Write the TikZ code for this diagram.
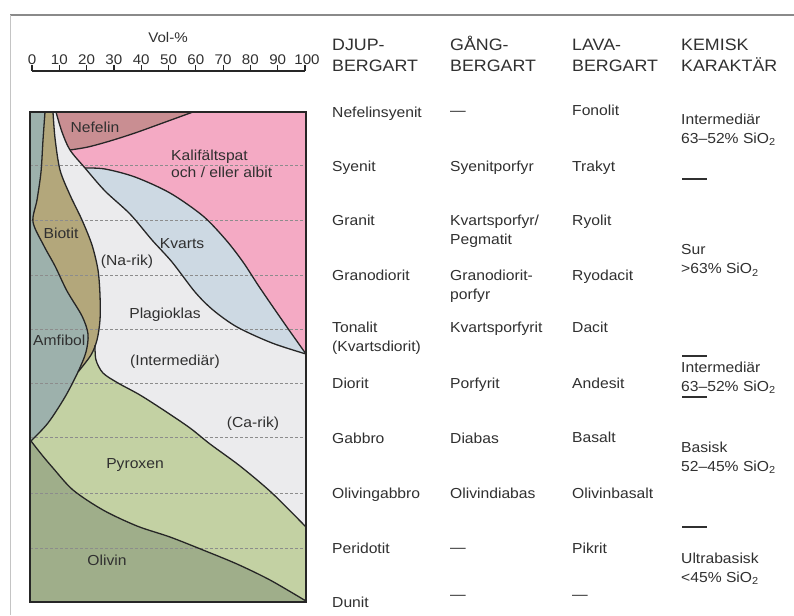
\documentclass[tikz,border=0pt]{standalone}
\usepackage{fontspec}
\setmainfont{Liberation Sans}[FakeStretch=1.08]
\definecolor{plag}{HTML}{EBEBED}
\definecolor{pinkc}{HTML}{F4AAC4}
\definecolor{kvartsc}{HTML}{CDD9E3}
\definecolor{nefc}{HTML}{C98E92}
\definecolor{biotc}{HTML}{B3A77B}
\definecolor{amfc}{HTML}{9DB1AC}
\definecolor{pyrc}{HTML}{C3D1A3}
\definecolor{olivc}{HTML}{9FAE8A}
\definecolor{txt}{HTML}{303030}
\definecolor{edge}{HTML}{262626}
\definecolor{dashc}{HTML}{8C8C8C}
\definecolor{framec}{HTML}{8A8A8A}
\definecolor{framel}{HTML}{C4C4C4}
\newcommand{\hstrut}{\rule{0pt}{19pt}}
\tikzset{
  hdr/.style={font=\fontsize{16.5}{21}\selectfont, anchor=west, align=left, inner sep=0pt, text=txt},
  cell/.style={font=\fontsize{14.5}{19}\selectfont, anchor=base west, inner sep=0pt, text=txt},
  cellm/.style={font=\fontsize{14.5}{19}\selectfont, anchor=west, align=left, inner sep=0pt, text=txt},
  lab/.style={font=\fontsize{14.5}{17}\selectfont, anchor=base, inner sep=0pt, text=txt},
  labm/.style={font=\fontsize{14.5}{17}\selectfont, anchor=west, align=left, inner sep=0pt, text=txt},
  sclab/.style={font=\fontsize{14}{16}\selectfont, anchor=base, inner sep=0pt, text=txt},
  bnd/.style={draw=edge, line width=1.3pt},
  rowline/.style={draw=dashc, line width=0.8pt, dash pattern=on 3pt off 2pt},
  sepline/.style={draw=txt, line width=1.8pt},
  scline/.style={draw=edge, line width=1.2pt},
}
\begin{document}
\begin{tikzpicture}[x=1pt,y=-1pt]
\useasboundingbox (0,0) rectangle (794,615);
\fill[white] (0,0) rectangle (794,615);
% frame
\draw[framec, line width=1.8pt] (10,15) -- (794,15);
\draw[framel, line width=1pt] (10,15) -- (10,615);

% scale
\node[sclab] (vol) at (168,43) {Vol-\%};
\draw[scline] (32,71) -- (305,71);
\foreach \k/\v in {0/0,1/10,2/20,3/30,4/40,5/50,6/60,7/70,8/80,9/90,10/100}{
  \draw[scline] ({32+27.3*\k},65.5) -- ({32+27.3*\k},71);
  \node[sclab] (t\k) at ({32+27.3*\k+(\k==10?2:0)},64.5) {\v};
}

% chart fills
\begin{scope}
\clip (30,112) rectangle (306,602);
\fill[plag] (30,112) rectangle (306,602);
% pink (right of W)
\fill[pinkc] plot[smooth] coordinates {(56,112) (62,132) (70,150) (85,168) (105,191) (130,214) (152,240) (172,262) (195,292) (213,310) (237,327) (272,343) (306,354)} -- (310,354) -- (310,105) -- (56,105) -- cycle;
% kvarts and nefelin, clipped to right of W
\begin{scope}
\clip plot[smooth] coordinates {(56,112) (62,132) (70,150) (85,168) (105,191) (130,214) (152,240) (172,262) (195,292) (213,310) (237,327) (272,343) (306,354)} -- (310,354) -- (310,105) -- (56,105) -- cycle;
\fill[kvartsc] plot[smooth] coordinates {(85,168) (105,169) (135,177) (170,193) (203,216) (226,240) (243,262) (258,285) (273,307) (289,330) (306,354)} -- (312,360) -- (312,610) -- (75,610) -- (75,168) -- cycle;
\fill[nefc] plot[smooth] coordinates {(193,112) (160,124) (135,133) (110,141) (88,147) (70,150)} -- (60,160) -- (40,160) -- (40,100) -- (193,100) -- cycle;
\end{scope}
% pyroxen
\fill[pyrc] plot[smooth] coordinates {(95,345) (96,360) (103,373) (118,383) (140,395) (165,411) (190,428) (210,444) (240,466) (272,493) (306,527)} -- (310,527) -- (310,610) -- (25,610) -- (25,441) -- (78,372) -- cycle;
% olivin
\fill[olivc] plot[smooth] coordinates {(31,441) (42,455) (53,468) (73,490) (103,510) (137,526) (170,537) (203,550) (237,564) (270,580) (306,601)} -- (310,601) -- (310,610) -- (25,610) -- (25,441) -- cycle;
% amfibol
\fill[amfc] plot[smooth] coordinates {(45,112) (43,140) (41,172) (37,200) (33,222) (44,246) (55,266) (67,291) (82,316) (88,334) (86,352) (78,372) (65,397) (48,423) (31,441)} -- (25,441) -- (25,105) -- (45,105) -- cycle;
\node[lab, anchor=base west] (amf) at (33,345) {Amfibol};
% biotit: left of R1 and right of L1
\begin{scope}
\clip plot[smooth] coordinates {(45,112) (43,140) (41,172) (37,200) (33,222) (44,246) (55,266) (67,291) (82,316) (88,334) (86,352) (78,372) (65,397) (48,423) (31,441)} -- (320,441) -- (320,100) -- (45,100) -- cycle;
\fill[biotc] plot[smooth] coordinates {(53,112) (55,138) (60,170) (70,195) (82,220) (92,245) (98,270) (100,295) (100,320) (97,340) (91,355) (78,372)} -- (20,380) -- (20,100) -- (53,100) -- cycle;
\end{scope}
% row lines
\foreach \yy in {165,220,275,329,383,437,493,548}{
  \draw[rowline] (30,\yy) -- (306,\yy);
}
% boundaries
\draw[bnd] plot[smooth] coordinates {(56,112) (62,132) (70,150) (85,168) (105,191) (130,214) (152,240) (172,262) (195,292) (213,310) (237,327) (272,343) (306,354)};
\draw[bnd] plot[smooth] coordinates {(85,168) (105,169) (135,177) (170,193) (203,216) (226,240) (243,262) (258,285) (273,307) (289,330) (306,354)};
\draw[bnd] plot[smooth] coordinates {(193,112) (160,124) (135,133) (110,141) (88,147) (70,150)};
\draw[bnd] plot[smooth] coordinates {(95,345) (96,360) (103,373) (118,383) (140,395) (165,411) (190,428) (210,444) (240,466) (272,493) (306,527)};
\draw[bnd] plot[smooth] coordinates {(31,441) (42,455) (53,468) (73,490) (103,510) (137,526) (170,537) (203,550) (237,564) (270,580) (306,601)};
\draw[bnd] plot[smooth] coordinates {(45,112) (43,140) (41,172) (37,200) (33,222) (44,246) (55,266) (67,291) (82,316) (88,334) (86,352) (78,372) (65,397) (48,423) (31,441)};
\draw[bnd] plot[smooth] coordinates {(53,112) (55,138) (60,170) (70,195) (82,220) (92,245) (98,270) (100,295) (100,320) (97,340) (91,355) (78,372)};
\end{scope}
\draw[edge, line width=2pt] (30,112) rectangle (306,602);

% chart labels
\node[lab] (nef) at (95,132) {Nefelin};
\node[labm] (kali) at (171,164) {Kalifältspat\\och / eller albit};
\node[lab] (biot) at (61,238) {Biotit};
\node[lab] (kv) at (182,248) {Kvarts};
\node[lab] (narik) at (127,265) {(Na-rik)};
\node[lab] (plagl) at (165,318) {Plagioklas};
\node[lab] (interm) at (175,365) {(Intermediär)};
\node[lab] (carik) at (253,427) {(Ca-rik)};
\node[lab] (pyr) at (135,468) {Pyroxen};
\node[lab] (oliv) at (107,565) {Olivin};

% headers
\node[hdr] (hd1) at (332,51.5) {\hstrut DJUP-\\BERGART};
\node[hdr] (hd2) at (450,51.5) {\hstrut GÅNG-\\BERGART};
\node[hdr] (hd3) at (572,51.5) {\hstrut LAVA-\\BERGART};
\node[hdr] (hd4) at (681,51.5) {\hstrut KEMISK\\KARAKTÄR};

% djupbergart
\node[cell] (d1) at (332,117.2) {Nefelinsyenit};
\node[cell] (d2) at (332,171.2) {Syenit};
\node[cell] (d3) at (332,225.2) {Granit};
\node[cell] (d4) at (332,280.2) {Granodiorit};
\node[cellm] (d5) at (332,338) {Tonalit\\(Kvartsdiorit)};
\node[cell] (d6) at (332,388.2) {Diorit};
\node[cell] (d7) at (332,443.2) {Gabbro};
\node[cell] (d8) at (332,498.2) {Olivingabbro};
\node[cell] (d9) at (332,553.2) {Peridotit};
\node[cell] (d10) at (332,607.2) {Dunit};

% gangbergart
\node[cell] (g1) at (450,115) {—};
\node[cell] (g2) at (450,171.2) {Syenitporfyr};
\node[cellm] (g3) at (450,231) {Kvartsporfyr/\\Pegmatit};
\node[cellm] (g4) at (450,286) {Granodiorit-\\porfyr};
\node[cell] (g5) at (450,332.2) {Kvartsporfyrit};
\node[cell] (g6) at (450,388.2) {Porfyrit};
\node[cell] (g7) at (450,443.2) {Diabas};
\node[cell] (g8) at (450,498.2) {Olivindiabas};
\node[cell] (g9) at (450,552) {—};
\node[cell] (g10) at (450,599) {—};

% lavabergart
\node[cell] (l1) at (572,115.5) {Fonolit};
\node[cell] (l2) at (572,171.2) {Trakyt};
\node[cell] (l3) at (572,225.2) {Ryolit};
\node[cell] (l4) at (572,280.2) {Ryodacit};
\node[cell] (l5) at (572,332.2) {Dacit};
\node[cell] (l6) at (572,388.2) {Andesit};
\node[cell] (l7) at (572,442.5) {Basalt};
\node[cell] (l8) at (572,498.2) {Olivinbasalt};
\node[cell] (l9) at (572,553.2) {Pikrit};
\node[cell] (l10) at (572,599) {—};

% kemisk karaktar
\node[cellm] (k1) at (681,129.5) {Intermediär\\63–52\% SiO\textsubscript{2}};
\node[cellm] (k2) at (681,260.4) {Sur\\>63\% SiO\textsubscript{2}};
\node[cellm] (k3) at (681,377.4) {Intermediär\\63–52\% SiO\textsubscript{2}};
\node[cellm] (k4) at (681,457.4) {Basisk\\52–45\% SiO\textsubscript{2}};
\node[cellm] (k5) at (681,568.4) {Ultrabasisk\\<45\% SiO\textsubscript{2}};
\draw[sepline] (682,179) -- (707,179);
\draw[sepline] (682,356) -- (707,356);
\draw[sepline] (682,397) -- (707,397);
\draw[sepline] (682,527) -- (707,527);
\end{tikzpicture}
\end{document}
